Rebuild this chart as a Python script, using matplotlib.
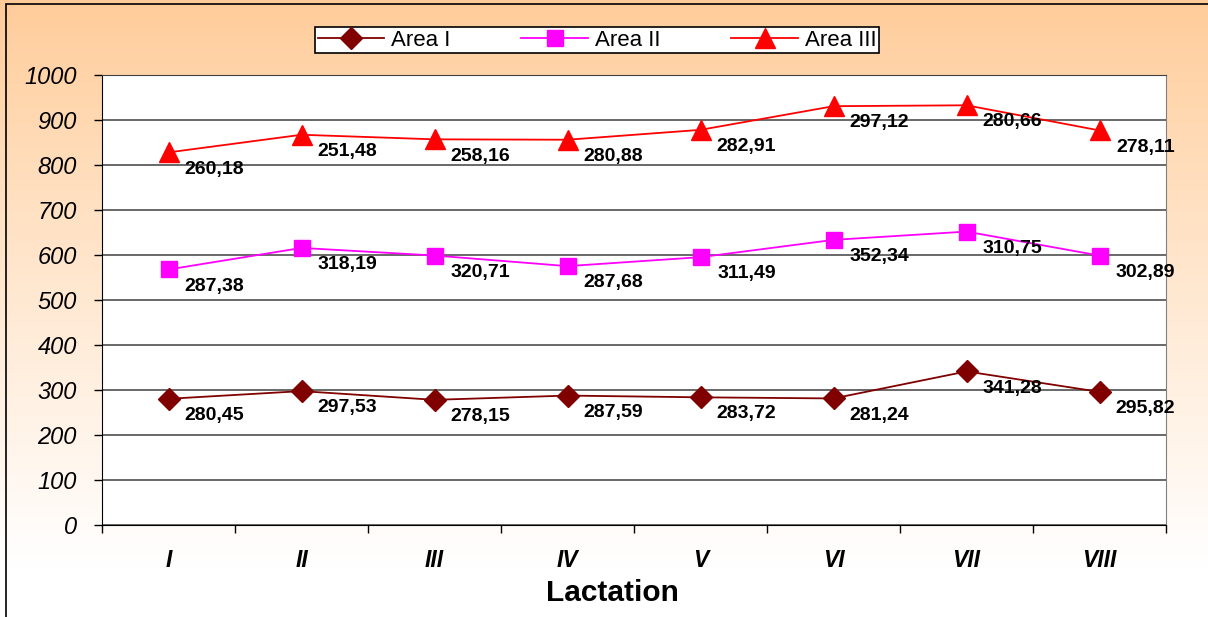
import numpy as np
import matplotlib.pyplot as plt
from matplotlib.patches import Rectangle

plt.rcParams['font.family'] = ['Liberation Sans', 'DejaVu Sans']

# datos por lactancia (valores de cada area, se grafican apilados)
lactaciones = ['I', 'II', 'III', 'IV', 'V', 'VI', 'VII', 'VIII']
area_1 = [280.45, 297.53, 278.15, 287.59, 283.72, 281.24, 341.28, 295.82]
area_2 = [287.38, 318.19, 320.71, 287.68, 311.49, 352.34, 310.75, 302.89]
area_3 = [260.18, 251.48, 258.16, 280.88, 282.91, 297.12, 280.66, 278.11]
nombres = ['Area I', 'Area II', 'Area III']

fig = plt.figure(figsize=(12.08, 6.17), dpi=100)

# fondo degradado durazno -> blanco
fondo = fig.add_axes([0, 0, 1, 1], zorder=-10)
grad = np.linspace(0, 1, 256)[:, None]
top = np.array([1.0, 0.80, 0.60])
bot = np.array([1.0, 1.0, 1.0])
t = np.clip(grad / 0.92, 0, 1) ** 0.9
img = top[None, None, :] * (1 - t[:, :, None]) + bot[None, None, :] * t[:, :, None]
fondo.imshow(img, aspect='auto', extent=[0, 1, 0, 1], origin='upper')
fondo.set_axis_off()
fig.patches.append(Rectangle((6 / 1208, -0.1), 1.2, 1 - 4 / 617 + 0.1,
                             transform=fig.transFigure, fill=False,
                             edgecolor='black', lw=1.2))

ax = fig.add_axes([102 / 1208, 1 - 525 / 617, 1064 / 1208, 450 / 617])
ax.set_facecolor('white')

x = np.arange(len(lactaciones))
s1 = np.array(area_1)
s2 = s1 + np.array(area_2)
s3 = s2 + np.array(area_3)

estilos = [
    dict(color='#800000', marker='D', ms=11),
    dict(color='#FF00FF', marker='s', ms=11),
    dict(color='#FF0000', marker='^', ms=14),
]
for y, vals, nombre, st in zip([s1, s2, s3], [area_1, area_2, area_3], nombres, estilos):
    ax.plot(x, y, color=st['color'], marker=st['marker'], ms=st['ms'], lw=1.3,
            mec=st['color'], mfc=st['color'], label=nombre, zorder=3)
    for xi, yi, v in zip(x, y, vals):
        ax.annotate(f'{v:.2f}'.replace('.', ','), xy=(xi, yi), xytext=(33, -12),
                    textcoords='offset points', ha='center', va='center',
                    fontsize=14, fontweight='bold', zorder=4)

ax.set_xlim(-0.5, 7.5)
ax.set_ylim(0, 1000)
ax.set_yticks(np.arange(0, 1001, 100))
ax.tick_params(axis='y', labelsize=17, length=6, width=1, pad=12)
for lbl in ax.get_yticklabels():
    lbl.set_fontstyle('italic')
ax.yaxis.grid(True, color='#404040', lw=1.1)
ax.set_axisbelow(True)

ax.set_xticks(x)
ax.set_xticklabels(lactaciones, fontsize=16.5, fontweight='bold', fontstyle='italic')
ax.set_xticks(np.arange(-0.5, 8.0, 1.0), minor=True)
ax.tick_params(axis='x', which='major', length=0, pad=17)
ax.tick_params(axis='x', which='minor', length=6, width=1)
ax.set_xlabel('Lactation', fontsize=21.5, fontweight='bold')
ax.xaxis.set_label_coords((612 - 102) / 1064, -(593 - 525) / 450)
ax.xaxis.label.set_va('center')

ax.spines['left'].set_color('black')
ax.spines['bottom'].set_color('black')
ax.spines['right'].set_color('#808080')
ax.spines['top'].set_color('#404040')

fig.legend(loc='center', bbox_to_anchor=(597 / 1208, 1 - 40 / 617), ncol=3,
           fontsize=16, frameon=True, fancybox=False, edgecolor='black',
           framealpha=1, handlelength=3, columnspacing=3.2, borderpad=0.1,
           handletextpad=0.3)
leg = fig.legends[0]
leg.get_frame().set_linewidth(1.2)

plt.savefig('out.png', dpi=100)
